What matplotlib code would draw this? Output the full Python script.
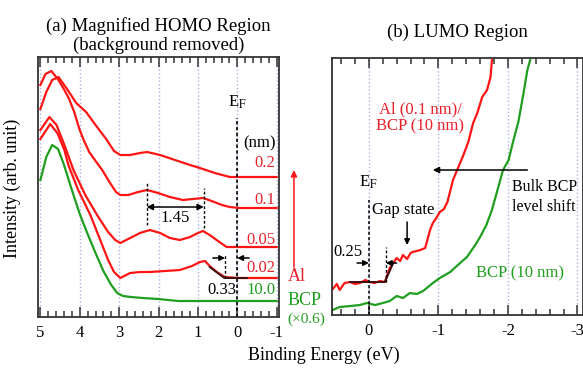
import matplotlib
matplotlib.use('Agg')
import matplotlib.pyplot as plt
from matplotlib.ticker import MultipleLocator

plt.rcParams['font.family'] = ['Liberation Serif', 'DejaVu Serif']
plt.rcParams['mathtext.fontset'] = 'stix'

RED = '#ff1414'
RED_TXT = '#e8202a'
GREEN = '#1f9e1f'
GRID = '#b0b0e8'

# (a) HOMO region : binding energy (eV), intensity (arb.)
e_02 = [5.00, 4.85, 4.70, 4.54, 4.34, 4.09, 3.84, 3.58, 3.33, 3.13, 2.97, 2.72, 2.47, 2.29,
        1.96, 1.58, 1.20, 0.95, 0.57, 0.19, -0.06, -1.0]
i_02 = [208, 225, 237, 240, 229, 214, 205, 191, 178, 166, 162, 162, 164, 165,
        162, 157, 152, 149, 144, 140, 140, 140]

e_01 = [5.00, 4.87, 4.72, 4.54, 4.39, 4.27, 4.14, 4.01, 3.89, 3.76, 3.58, 3.43, 3.23, 3.08,
        2.97, 2.77, 2.52, 2.29, 2.01, 1.71, 1.38, 1.13, 0.87, 0.65, 0.39, 0.19, -0.06, -1.0]
i_01 = [232, 243, 246, 237, 227, 218, 205, 188, 176, 165, 155, 147, 134, 125,
        122, 122, 125, 127, 124, 120, 117, 118, 119, 116, 112, 110, 109, 109]

e_005 = [5.00, 4.77, 4.59, 4.39, 4.16, 3.86, 3.56, 3.28, 3.10, 2.97, 2.72, 2.47, 2.22, 1.96,
         1.71, 1.46, 1.20, 1.00, 0.87, 0.70, 0.49, 0.27, -0.06, -1.0]
i_005 = [187, 200, 192, 172, 147, 122, 102, 85, 77, 74, 79, 84, 87, 84,
         79, 77, 80, 84, 86, 82, 76, 70, 70, 70]

e_002 = [5.00, 4.75, 4.57, 4.39, 4.29, 4.04, 3.73, 3.48, 3.28, 3.13, 2.97, 2.72, 2.47, 2.22,
         1.84, 1.46, 1.15, 0.95, 0.82, 0.70, 0.52, 0.32, -0.06, -1.0]
i_002 = [178, 193, 184, 167, 152, 127, 102, 77, 57, 45, 39, 44, 45, 45,
         46, 47, 51, 55, 56, 51, 45, 40, 39, 39]
e_fit = [0.70, 0.33, -0.24]
i_fit = [50, 39, 39]

e_bcp = [5.00, 4.85, 4.70, 4.55, 4.40, 4.20, 4.00, 3.80, 3.60, 3.40, 3.20, 3.05, 2.90, 2.70,
         2.40, 2.00, 1.50, 1.00, 0.50, 0.00, -1.0]
i_bcp = [137, 160, 172, 168, 152, 127, 103, 83, 64, 46, 32, 24, 21, 20,
         19, 18, 16, 16, 16, 16, 16]

# (b) LUMO region
e_al = [0.52, 0.46, 0.42, 0.35, 0.27, 0.20, 0.13, 0.05, -0.01, -0.08, -0.16, -0.23, -0.30, -0.40,
        -0.45, -0.49, -0.55, -0.60, -0.63, -0.74, -0.81, -0.88, -0.92, -0.97, -1.02, -1.08,
        -1.13, -1.21, -1.27, -1.36, -1.43, -1.50, -1.56, -1.63, -1.70, -1.75, -1.77]
i_al = [26, 31, 25, 32, 33, 31, 32, 35, 33, 32, 34, 33, 47, 57,
        54, 60, 56, 62, 63, 65, 67, 85, 92, 97, 103, 106,
        113, 135, 145, 160, 173, 192, 202, 218, 225, 238, 255]
e_alfit = [0.27, -0.23, -0.35]
i_alfit = [33, 33, 52]

e_bcp2 = [0.52, 0.42, 0.27, 0.13, 0.03, -0.09, -0.20, -0.30, -0.40, -0.49, -0.59, -0.69, -0.78,
          -0.92, -1.02, -1.17, -1.28, -1.41, -1.53, -1.60, -1.69, -1.77, -1.85, -1.93, -2.01,
          -2.08, -2.15, -2.22, -2.28, -2.32]
i_bcp2 = [5, 8, 9, 10, 12, 10, 12, 14, 19, 17, 22, 21, 24,
          32, 37, 43, 50, 58, 70, 78, 90, 105, 125, 145, 155,
          175, 193, 220, 245, 255]

fig = plt.figure(figsize=(5.83, 3.69), dpi=100)
ax1 = fig.add_axes([0.0652, 0.1409, 0.4134, 0.7046])
ax2 = fig.add_axes([0.5695, 0.1463, 0.4305, 0.6965])


def style(ax, xlim, ylim):
    ax.set_xlim(*xlim)
    ax.set_ylim(*ylim)
    ax.set_yticks([])
    ax.xaxis.set_major_locator(MultipleLocator(1))
    ax.xaxis.set_minor_locator(MultipleLocator(0.2))
    ax.tick_params(which='both', direction='in', top=True, bottom=True, width=1.1,
                   labelsize=12, pad=6, color='#333333')
    ax.tick_params(which='major', length=7)
    ax.tick_params(which='minor', length=4)
    ax.grid(axis='x', which='major', linestyle=':', color=GRID, linewidth=1.0)
    ax.xaxis.set_major_formatter(matplotlib.ticker.FuncFormatter(lambda v, p: '%d' % round(v)))
    for s in ax.spines.values():
        s.set_linewidth(1.3)
        s.set_color('#333333')


style(ax1, (5.06, -1.06), (0, 260))
style(ax2, (0.53, -3.08), (0, 257))

# panel (a)
for e, i in [(e_02, i_02), (e_01, i_01), (e_005, i_005), (e_002, i_002)]:
    ax1.plot(e, i, color=RED, lw=1.6)
ax1.plot(e_fit, i_fit, color='#401010', lw=1.4)
ax1.plot(e_bcp, i_bcp, color=GREEN, lw=1.6)

ax1.plot([0, 0], [0, 199], color='black', lw=1.2, ls=(0, (2, 1.5)))
ax1.text(0, 215, r'E$_{\rm F}$', ha='center', va='center', fontsize=12)

ax1.plot([2.30, 2.30], [92, 134], color='black', lw=1, ls=(0, (2, 1.5)))
ax1.plot([0.85, 0.85], [89, 129], color='black', lw=1, ls=(0, (2, 1.5)))
ax1.annotate('', xy=(0.85, 110), xytext=(2.30, 110),
             arrowprops=dict(arrowstyle='<|-|>', color='black', lw=1.1, mutation_scale=9,
                             shrinkA=0, shrinkB=0))
ax1.text(1.57, 99, '1.45', ha='center', va='center', fontsize=12)

ax1.plot([0.31, 0.31], [39, 62], color='black', lw=1, ls=(0, (2, 1.5)))
ax1.annotate('', xy=(0.31, 59), xytext=(0.62, 59),
             arrowprops=dict(arrowstyle='-|>', color='black', lw=1.1, mutation_scale=8,
                             shrinkA=0, shrinkB=0))
ax1.annotate('', xy=(0.0, 59), xytext=(-0.30, 59),
             arrowprops=dict(arrowstyle='-|>', color='black', lw=1.1, mutation_scale=8,
                             shrinkA=0, shrinkB=0))
ax1.text(0.39, 27, '0.33', ha='center', va='center', fontsize=12)

ax1.text(-0.97, 174, '(nm)', ha='right', va='center', fontsize=12)
for lab, y in [('0.2', 154), ('0.1', 117), ('0.05', 77), ('0.02', 49)]:
    ax1.text(-0.97, y, lab, ha='right', va='center', fontsize=12, color=RED_TXT)
ax1.text(-0.97, 27, '10.0', ha='right', va='center', fontsize=12, color=GREEN)

ax1.annotate('', xy=(1.062, 0.565), xytext=(1.062, 0.192), xycoords='axes fraction',
             arrowprops=dict(arrowstyle='-|>', color=RED, lw=1.1, mutation_scale=9,
                             shrinkA=0, shrinkB=0), annotation_clip=False)
ax1.text(1.035, 0.155, 'Al', transform=ax1.transAxes, ha='left', va='center',
         fontsize=13, color=RED_TXT)
ax1.text(1.035, 0.065, 'BCP', transform=ax1.transAxes, ha='left', va='center',
         fontsize=13, color=GREEN)
ax1.text(1.035, -0.01, '(\u00d70.6)', transform=ax1.transAxes, ha='left', va='center',
         fontsize=11, color=GREEN)

ax1.set_title('(a) Magnified HOMO Region\n(background removed)', fontsize=13.5, pad=5,
              linespacing=1.15)

# panel (b)
ax2.plot(e_al, i_al, color=RED, lw=1.6)
ax2.plot(e_alfit, i_alfit, color='#401010', lw=1.4)
ax2.plot(e_bcp2, i_bcp2, color=GREEN, lw=1.6)

ax2.plot([0, 0], [0, 115], color='black', lw=1.1, ls=(0, (2, 1.5)))
ax2.text(0.01, 133, r'E$_{\rm F}$', ha='center', va='center', fontsize=12)
ax2.plot([-0.245, -0.245], [33, 68], color='black', lw=1, ls=(0, (2, 1.5)))
ax2.annotate('', xy=(0.0, 52), xytext=(0.17, 52),
             arrowprops=dict(arrowstyle='-|>', color='black', lw=1.1, mutation_scale=8,
                             shrinkA=0, shrinkB=0))
ax2.annotate('', xy=(-0.245, 52), xytext=(-0.40, 52),
             arrowprops=dict(arrowstyle='-|>', color='black', lw=1.1, mutation_scale=8,
                             shrinkA=0, shrinkB=0))
ax2.text(0.30, 63, '0.25', ha='center', va='center', fontsize=12)

ax2.text(-0.49, 105, 'Gap state', ha='center', va='center', fontsize=12)
ax2.annotate('', xy=(-0.55, 70), xytext=(-0.55, 93),
             arrowprops=dict(arrowstyle='-|>', color='black', lw=1.1, mutation_scale=8,
                             shrinkA=0, shrinkB=0))

ax2.annotate('', xy=(-0.92, 145), xytext=(-2.28, 145),
             arrowprops=dict(arrowstyle='-|>', color='black', lw=1.1, mutation_scale=9,
                             shrinkA=0, shrinkB=0))
ax2.text(-2.06, 128, 'Bulk BCP', ha='left', va='center', fontsize=11.5)
ax2.text(-2.06, 108, 'level shift', ha='left', va='center', fontsize=11.5)

ax2.text(-0.74, 197, 'Al (0.1 nm)/\nBCP (10 nm)', ha='center', va='center', fontsize=12,
         color=RED_TXT, linespacing=1.1)
ax2.text(-2.18, 42, 'BCP (10 nm)', ha='center', va='center', fontsize=12, color=GREEN)

ax2.text(0.5, 1.1, '(b) LUMO Region', transform=ax2.transAxes, ha='center', va='center',
         fontsize=13.5)

fig.text(0.555, 0.038, 'Binding Energy (eV)', ha='center', va='center', fontsize=13)
fig.text(0.022, 0.49, 'Intensity (arb. unit)', ha='center', va='center', fontsize=13,
         rotation=90)

fig.savefig('out.png', dpi=100)
